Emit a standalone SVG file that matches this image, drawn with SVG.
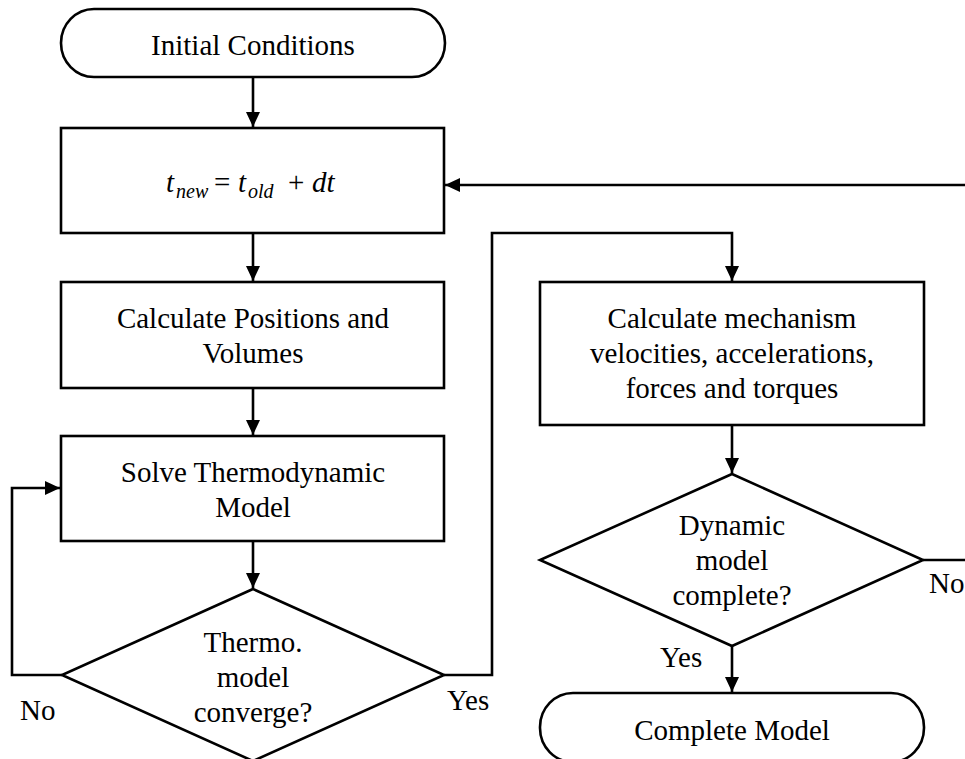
<svg xmlns="http://www.w3.org/2000/svg" width="965" height="759" viewBox="0 0 965 759">
<style>
.shape{fill:#fff;stroke:#000;stroke-width:2.6}
.conn{fill:none;stroke:#000;stroke-width:2.6}
text{font-family:"Liberation Serif","Times New Roman",serif;font-size:29px;fill:#000}
.c{text-anchor:middle}
</style>
<defs>
<marker id="arr" markerUnits="userSpaceOnUse" markerWidth="16" markerHeight="15" refX="15" refY="7" orient="auto">
<path d="M0,0 L15,7 L0,14 Z" fill="#000"/>
</marker>
</defs>
<rect width="965" height="759" fill="#fff"/>
<g id="connectors">
<path class="conn" d="M253,78 V127" marker-end="url(#arr)"/>
<path class="conn" d="M965,185 H445" marker-end="url(#arr)"/>
<path class="conn" d="M253,233 V281" marker-end="url(#arr)"/>
<path class="conn" d="M253,388 V435" marker-end="url(#arr)"/>
<path class="conn" d="M253,541 V588" marker-end="url(#arr)"/>
<path class="conn" d="M62,675 H12 V488 H60" marker-end="url(#arr)"/>
<path class="conn" d="M444,675 H492 V233 H732 V281" marker-end="url(#arr)"/>
<path class="conn" d="M732,425 V473" marker-end="url(#arr)"/>
<path class="conn" d="M923,560 H965"/>
<path class="conn" d="M732,646 V692" marker-end="url(#arr)"/>
</g>
<g id="initial">
<rect class="shape" x="61" y="9" width="384" height="68" rx="33" ry="34"/>
<text class="c" x="253" y="55">Initial Conditions</text>
</g>
<g id="time-step">
<rect class="shape" x="61" y="128" width="383" height="105"/>
<text font-style="italic"><tspan x="166" y="192">t</tspan><tspan x="176" y="198" font-size="20">new</tspan><tspan x="214" y="192" font-style="normal">=</tspan><tspan x="238" y="192">t</tspan><tspan x="248" y="198" font-size="20">old</tspan><tspan x="288" y="192" font-style="normal">+</tspan><tspan x="312" y="192">dt</tspan></text>
</g>
<g id="positions">
<rect class="shape" x="61" y="282" width="383" height="106"/>
<text class="c" x="253" y="328">Calculate Positions and</text>
<text class="c" x="253" y="363">Volumes</text>
</g>
<g id="thermo">
<rect class="shape" x="61" y="436" width="383" height="105"/>
<text class="c" x="253" y="482">Solve Thermodynamic</text>
<text class="c" x="253" y="517">Model</text>
</g>
<g id="thermo-decision">
<polygon class="shape" points="253,589 444,675 253,761 62,675"/>
<text class="c" x="253" y="652">Thermo.</text>
<text class="c" x="253" y="687">model</text>
<text class="c" x="253" y="722">converge?</text>
</g>
<g id="mechanism">
<rect class="shape" x="540" y="282" width="384" height="143"/>
<text class="c" x="732" y="328">Calculate mechanism</text>
<text class="c" x="732" y="363">velocities, accelerations,</text>
<text class="c" x="732" y="398">forces and torques</text>
</g>
<g id="dynamic-decision">
<polygon class="shape" points="732,474 923,560 732,646 540,560"/>
<text class="c" x="732" y="535">Dynamic</text>
<text class="c" x="732" y="570">model</text>
<text class="c" x="732" y="605">complete?</text>
</g>
<g id="complete">
<rect class="shape" x="540" y="693" width="384" height="69" rx="33" ry="34"/>
<text class="c" x="732" y="740">Complete Model</text>
</g>
<g id="labels">
<text x="20" y="720">No</text>
<text x="447" y="710">Yes</text>
<text x="929" y="593">No</text>
<text x="660" y="667">Yes</text>
</g>
</svg>
